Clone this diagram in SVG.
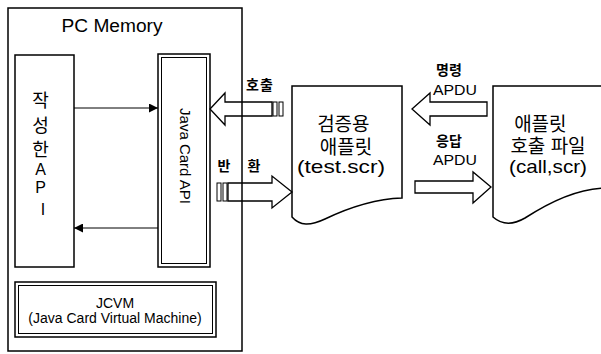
<svg xmlns="http://www.w3.org/2000/svg" width="601" height="354" viewBox="0 0 601 354">
<style>
.box{fill:none;stroke:#000;stroke-width:1.5}
.thin{fill:none;stroke:#000;stroke-width:1}
.big{fill:#fff;stroke:#000;stroke-width:1.3;stroke-linejoin:miter}
.lat{font-family:"Liberation Sans",Arial,sans-serif;fill:#000}
.kr{font-family:"Liberation Sans","Noto Sans CJK KR",sans-serif;fill:#000}
.lbl{font-size:14px;font-weight:bold;text-anchor:middle}
</style>
<defs>
<marker id="ah" viewBox="0 0 10 10" refX="10" refY="5" markerWidth="10" markerHeight="9" markerUnits="userSpaceOnUse" orient="auto">
<path d="M0,0 L10,5 L0,10 z" fill="#000"/>
</marker>
</defs>
<rect width="601" height="354" fill="#fff"/>

<g id="pc-memory">
<rect class="box" x="8" y="8" width="234" height="343"/>
<text class="lat" x="112" y="32" font-size="18" text-anchor="middle" textLength="101" lengthAdjust="spacingAndGlyphs">PC Memory</text>
</g>

<g id="written-api">
<rect class="box" x="15" y="55" width="59" height="212"/>
<text class="kr" font-size="18" text-anchor="middle">
<tspan x="43" y="107">작</tspan>
<tspan x="43" y="132">성</tspan>
<tspan x="43" y="156">한</tspan>
<tspan x="43" y="175" font-size="16">A</tspan>
<tspan x="43" y="193" font-size="16">P</tspan>
<tspan x="43" y="215" font-size="16">I</tspan>
</text>
</g>

<g id="java-card-api">
<rect class="box" x="158" y="54" width="52" height="213" stroke-width="1.7"/>
<rect class="thin" x="161.5" y="57.5" width="45" height="206"/>
<text class="lat" x="180" y="156" font-size="15" text-anchor="middle" transform="rotate(90 180 156)">Java Card API</text>
</g>

<g id="jcvm">
<rect class="box" x="15" y="282" width="201" height="55" stroke-width="1.7"/>
<rect class="thin" x="18.5" y="285.5" width="194" height="48"/>
<text class="lat" x="115" y="308" font-size="14" text-anchor="middle">JCVM</text>
<text class="lat" x="115" y="323" font-size="14" text-anchor="middle">(Java Card Virtual Machine)</text>
</g>

<g id="test-applet">
<path class="box" d="M292,217 V86 H402 V198 C375,199 350,207 325,219 C310,226 300,226 292,217 Z"/>
<text class="kr" font-size="19" text-anchor="middle">
<tspan x="346" y="131">검증용</tspan>
<tspan x="346" y="154">애플릿</tspan>
</text>
<text class="lat" x="341" y="173" font-size="19" text-anchor="middle" textLength="88" lengthAdjust="spacingAndGlyphs">(test.scr)</text>
</g>

<g id="call-file">
<path class="box" d="M604,188 C575,189 548,203 525,218 C513,225 502,225 493,217 V86 H604"/>
<text class="kr" font-size="19" text-anchor="middle">
<tspan x="543" y="131">애플릿</tspan>
<tspan x="548" y="153">호출 파일</tspan>
</text>
<text class="lat" x="548" y="173" font-size="19" text-anchor="middle" textLength="78" lengthAdjust="spacingAndGlyphs">(call,scr)</text>
</g>

<g id="connectors">
<line class="thin" x1="74" y1="108" x2="158" y2="108" marker-end="url(#ah)"/>
<line class="thin" x1="158" y1="228" x2="74" y2="228" marker-end="url(#ah)"/>

<path class="big" fill-opacity="0" d="M210,109 L225,93 V102 H272 V116 H225 V125 Z"/>
<rect class="thin" x="273" y="102" width="4" height="14"/>
<rect class="thin" x="279" y="102" width="4" height="14"/>
<text class="kr lbl" x="260" y="90" letter-spacing="1">호출</text>

<path class="big" fill-opacity="0" d="M228,183 H272 V176 L292,192 L272,208 V201 H228 Z"/>
<rect class="thin" x="217" y="183" width="4" height="18"/>
<rect class="thin" x="223" y="183" width="4" height="18"/>
<text class="kr lbl"><tspan x="224" y="171">반</tspan><tspan x="254" y="171">환</tspan></text>

<path class="big" d="M412,109 L430,93 V102 H487 V116 H430 V125 Z"/>
<text class="kr lbl" x="449" y="75">명령</text>
<text class="lat" x="455" y="95" font-size="14" text-anchor="middle" textLength="44" lengthAdjust="spacingAndGlyphs">APDU</text>

<path class="big" d="M415,181 H473 V172 L491,187 L473,203 V193 H415 Z"/>
<text class="kr lbl" x="449" y="146">응답</text>
<text class="lat" x="455" y="165" font-size="14" text-anchor="middle" textLength="44" lengthAdjust="spacingAndGlyphs">APDU</text>
</g>
</svg>
